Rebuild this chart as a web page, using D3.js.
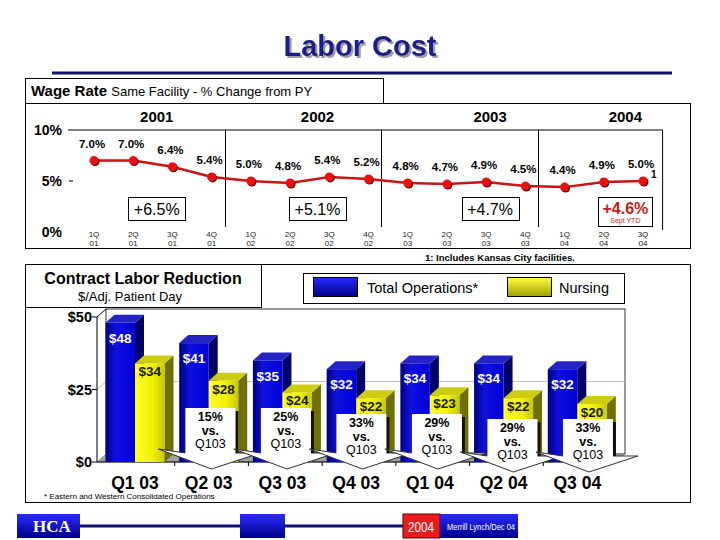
<!DOCTYPE html>
<html>
<head>
<meta charset="utf-8">
<script src="https://cdn.jsdelivr.net/npm/d3@7"></script>
<style>
  body { margin: 0; background: #fff; }
  svg { display: block; font-family: Arial, "Liberation Sans", sans-serif; }
</style>
</head>
<body>
<div id="chart"></div>
<script>
// wage rate, % change from prior year
const quarters = ["1Q01","2Q01","3Q01","4Q01","1Q02","2Q02","3Q02","4Q02",
                  "1Q03","2Q03","3Q03","4Q03","1Q04","2Q04","3Q04"];
const wageRate = [7.0, 7.0, 6.4, 5.4, 5.0, 4.8, 5.4, 5.2, 4.8, 4.7, 4.9, 4.5, 4.4, 4.9, 5.0];
const years = ["2001", "2002", "2003", "2004"];
const yearAvg = ["+6.5%", "+5.1%", "+4.7%", "+4.6%"];
const wageTicks = [0, 5, 10];

// contract labor, $ per adj. patient day
const periods = ["Q1 03", "Q2 03", "Q3 03", "Q4 03", "Q1 04", "Q2 04", "Q3 04"];
const totalOps = [48, 41, 35, 32, 34, 34, 32];
const nursing = [34, 28, 24, 22, 23, 22, 20];
const reduction = [null, "15%", "25%", "33%", "29%", "29%", "33%"];
const dollarTicks = [0, 25, 50];

const W = 720, H = 540;
const svg = d3.select("#chart").append("svg").attr("width", W).attr("height", H);
const defs = svg.append("defs");

function grad(id, stops, x2, y2) {
    const g = defs.append("linearGradient").attr("id", id)
        .attr("x1", 0).attr("y1", 0).attr("x2", x2).attr("y2", y2);
    stops.forEach(s => g.append("stop").attr("offset", s[0]).attr("stop-color", s[1]));
}
grad("blueFront", [[0, "#00007a"], [0.35, "#1010e0"], [1, "#0000d8"]], 1, 0);
grad("yellowFront", [[0, "#ffff30"], [0.6, "#f0f000"], [1, "#c8c800"]], 1, 0);
grad("blueBox", [[0, "#2a2aff"], [1, "#00008a"]], 0, 1);
grad("yellowBox", [[0, "#ffff40"], [1, "#a0a000"]], 0, 1);

const shadow = defs.append("filter").attr("id", "titleShadow")
    .attr("x", "-10%").attr("y", "-20%").attr("width", "130%").attr("height", "150%");
shadow.append("feDropShadow").attr("dx", 2).attr("dy", 2).attr("stdDeviation", 0.6)
    .attr("flood-color", "#9090a0").attr("flood-opacity", 0.9);

// title
svg.append("text").attr("x", 360).attr("y", 56).attr("text-anchor", "middle")
    .attr("font-size", 29).attr("font-weight", "bold").attr("fill", "#1c1c8a")
    .attr("filter", "url(#titleShadow)")
    .text("Labor Cost");
svg.append("line").attr("x1", 52).attr("x2", 672).attr("y1", 73).attr("y2", 73)
    .attr("stroke", "#12126e").attr("stroke-width", 3);

// ---------- Wage rate panel ----------
svg.append("rect").attr("x", 25.5).attr("y", 103.5).attr("width", 665).attr("height", 145)
    .attr("fill", "none").attr("stroke", "#000");
svg.append("rect").attr("x", 25.5).attr("y", 78.5).attr("width", 358).attr("height", 25)
    .attr("fill", "#fff").attr("stroke", "#000");
const wt = svg.append("text").attr("x", 31).attr("y", 96);
wt.append("tspan").attr("font-size", 15).attr("font-weight", "bold").text("Wage Rate ");
wt.append("tspan").attr("font-size", 13).text("Same Facility - % Change from PY");

const xq = d3.scalePoint().domain(quarters).range([94, 643]);
const yw = d3.scaleLinear().domain([0, 10]).range([232, 130]);
const step = xq.step();

const topG = svg.append("g");
topG.append("line").attr("x1", 68).attr("x2", xq("3Q04") + step * 0.5)
    .attr("y1", yw(10)).attr("y2", yw(10)).attr("stroke", "#000");
["4Q01", "4Q02", "4Q03"].forEach(q => {
    const x = Math.round(xq(q) + step * 0.33) + 0.5;
    topG.append("line").attr("x1", x).attr("x2", x).attr("y1", yw(10)).attr("y2", 227)
        .attr("stroke", "#000");
});
topG.append("line").attr("x1", xq("3Q04") + step * 0.5).attr("x2", xq("3Q04") + step * 0.5)
    .attr("y1", yw(10)).attr("y2", 230).attr("stroke", "#000");

wageTicks.forEach(t => {
    topG.append("text").attr("x", 62).attr("y", yw(t) + 5).attr("text-anchor", "end")
        .attr("font-size", 14).attr("font-weight", "bold").text(t + "%");
});
topG.append("line").attr("x1", 69).attr("x2", 73).attr("y1", yw(5)).attr("y2", yw(5))
    .attr("stroke", "#000");

// year labels and yearly averages, anchored between quarters
const yearAnchor = [["2Q01", 0.6], ["2Q02", 0.7], ["3Q03", 0.1], ["2Q04", 0.55]];
years.forEach((yr, i) => {
    const cx = xq(yearAnchor[i][0]) + step * yearAnchor[i][1];
    topG.append("text").attr("x", cx).attr("y", 122).attr("text-anchor", "middle")
        .attr("font-size", 15).attr("font-weight", "bold").text(yr);
    const last = i === years.length - 1;
    const bw = last ? 54 : 57, bh = last ? 29 : 23;
    topG.append("rect").attr("x", Math.round(cx - bw / 2) + 0.5).attr("y", 197.5)
        .attr("width", bw).attr("height", bh).attr("fill", "#fff").attr("stroke", "#000");
    topG.append("text").attr("x", cx).attr("y", last ? 214 : 215).attr("text-anchor", "middle")
        .attr("font-size", 16).attr("font-weight", last ? "bold" : "normal")
        .attr("fill", last ? "#d01818" : "#000").text(yearAvg[i]);
    if (last) {
        topG.append("text").attr("x", cx).attr("y", 222.5).attr("text-anchor", "middle")
            .attr("font-size", 7).attr("fill", "#d01818").text("Sept YTD");
    }
});

// quarter axis labels
quarters.forEach(q => {
    topG.append("text").attr("x", xq(q)).attr("y", 237).attr("text-anchor", "middle")
        .attr("font-size", 8).attr("fill", "#222").text(q.slice(0, 2));
    topG.append("text").attr("x", xq(q)).attr("y", 246).attr("text-anchor", "middle")
        .attr("font-size", 8).attr("fill", "#222").text(q.slice(2));
});

const pts = quarters.map((q, i) => ({ q, v: wageRate[i] }));
topG.append("path").datum(pts)
    .attr("d", d3.line().x(d => xq(d.q)).y(d => yw(d.v)))
    .attr("fill", "none").attr("stroke", "#c81414").attr("stroke-width", 2.5);
topG.selectAll(".shadow").data(pts).join("circle")
    .attr("cx", d => xq(d.q) + 1).attr("cy", d => yw(d.v) + 1).attr("r", 4.5)
    .attr("fill", "#600000");
topG.selectAll(".dot").data(pts).join("circle")
    .attr("cx", d => xq(d.q)).attr("cy", d => yw(d.v)).attr("r", 4.5)
    .attr("fill", "#e81010");
topG.selectAll(".lbl").data(pts).join("text")
    .attr("x", d => xq(d.q) - 2).attr("y", d => yw(d.v) - 13)
    .attr("text-anchor", "middle").attr("font-size", 11.5).attr("font-weight", "bold")
    .text(d => d.v.toFixed(1) + "%");
topG.append("text").attr("x", xq("3Q04") + 8).attr("y", 178).attr("font-size", 10)
    .attr("font-weight", "bold").text("1");

svg.append("text").attr("x", 500).attr("y", 261).attr("text-anchor", "middle")
    .attr("font-size", 9.5).attr("font-weight", "bold").text("1: Includes Kansas City facilities.");

// ---------- Contract labor panel ----------
svg.append("rect").attr("x", 25.5).attr("y", 264.5).attr("width", 665).attr("height", 238)
    .attr("fill", "none").attr("stroke", "#000");
svg.append("rect").attr("x", 25.5).attr("y", 264.5).attr("width", 236).attr("height", 43)
    .attr("fill", "#fff").attr("stroke", "#000");
svg.append("text").attr("x", 143).attr("y", 284).attr("text-anchor", "middle")
    .attr("font-size", 16).attr("font-weight", "bold").text("Contract Labor Reduction");
svg.append("text").attr("x", 130).attr("y", 301).attr("text-anchor", "middle")
    .attr("font-size", 13).text("$/Adj. Patient Day");

// legend
svg.append("rect").attr("x", 303.5).attr("y", 273.5).attr("width", 321).attr("height", 30)
    .attr("fill", "#fff").attr("stroke", "#000");
svg.append("rect").attr("x", 313.5).attr("y", 277.5).attr("width", 44).attr("height", 19)
    .attr("fill", "url(#blueBox)").attr("stroke", "#000");
svg.append("text").attr("x", 367).attr("y", 293).attr("font-size", 14.5).text("Total Operations*");
svg.append("rect").attr("x", 507.5).attr("y", 277.5).attr("width", 44).attr("height", 19)
    .attr("fill", "url(#yellowBox)").attr("stroke", "#000");
svg.append("text").attr("x", 559).attr("y", 293).attr("font-size", 14.5).text("Nursing");

const xb = d3.scaleBand().domain(periods).range([98, 614]);
const yb = d3.scaleLinear().domain([0, 50]).range([462, 317]);
const xs = d3.scaleBand().domain(["total", "nursing"]).range([7.5, 66.5]);
const dx = 9, dy = -8;
const x0 = 97, xEnd = 625;

const bot = svg.append("g");
// back wall, grid and floor
bot.append("rect").attr("x", x0 + dx).attr("y", yb(50) + dy).attr("width", xEnd - x0 - dx)
    .attr("height", yb(0) - yb(50)).attr("fill", "#fff").attr("stroke", "#000").attr("stroke-width", 0.8);
dollarTicks.filter(t => t > 0 && t < 50).forEach(t => {
    bot.append("line").attr("x1", x0 + dx).attr("x2", xEnd).attr("y1", yb(t) + dy).attr("y2", yb(t) + dy)
        .attr("stroke", "#c0c0c8");
    bot.append("line").attr("x1", x0).attr("x2", x0 + dx).attr("y1", yb(t)).attr("y2", yb(t) + dy)
        .attr("stroke", "#c0c0c8");
});
bot.append("path")
    .attr("d", `M${x0},${yb(0)}L${x0 + dx},${yb(0) + dy}L${xEnd},${yb(0) + dy}L${xEnd - dx},${yb(0)}Z`)
    .attr("fill", "#a0a0a0").attr("stroke", "#606060").attr("stroke-width", 0.5);
bot.append("line").attr("x1", x0).attr("x2", x0 + dx).attr("y1", yb(50)).attr("y2", yb(50) + dy)
    .attr("stroke", "#000");
bot.append("line").attr("x1", x0).attr("x2", x0).attr("y1", yb(50)).attr("y2", yb(0))
    .attr("stroke", "#000");
bot.append("line").attr("x1", x0).attr("x2", xEnd - dx).attr("y1", yb(0)).attr("y2", yb(0))
    .attr("stroke", "#000");
dollarTicks.forEach(t => {
    bot.append("line").attr("x1", x0 - 5).attr("x2", x0).attr("y1", yb(t)).attr("y2", yb(t))
        .attr("stroke", "#000");
    bot.append("text").attr("x", x0 - 5).attr("y", yb(t) + 5).attr("text-anchor", "end")
        .attr("font-size", 14.5).attr("font-weight", "bold").text("$" + t);
});
periods.forEach(p => {
    const x = xb(p) + xb.bandwidth() + 3;
    if (p !== periods[periods.length - 1])
        bot.append("line").attr("x1", x).attr("x2", x).attr("y1", yb(0)).attr("y2", yb(0) + 4)
            .attr("stroke", "#000");
});

function bar3d(g, x, v, w, front, side, top) {
    const yt = yb(v), y0 = yb(0);
    g.append("path").attr("d", `M${x + w},${yt}L${x + w + dx},${yt + dy}L${x + w + dx},${y0 + dy}L${x + w},${y0}Z`)
        .attr("fill", side);
    g.append("path").attr("d", `M${x},${yt}L${x + dx},${yt + dy}L${x + w + dx},${yt + dy}L${x + w},${yt}Z`)
        .attr("fill", top);
    g.append("rect").attr("x", x).attr("y", yt).attr("width", w).attr("height", y0 - yt)
        .attr("fill", front);
}

periods.forEach((p, i) => {
    const g = bot.append("g");
    const xt = xb(p) + xs("total"), xn = xb(p) + xs("nursing"), w = xs.bandwidth();
    bar3d(g, xt, totalOps[i], w, "url(#blueFront)", "#00006a", "#2424c4");
    bar3d(g, xn, nursing[i], w, "url(#yellowFront)", "#707000", "#cccc10");
    g.append("text").attr("x", xt + w / 2).attr("y", yb(totalOps[i]) + 20).attr("text-anchor", "middle")
        .attr("font-size", 13.5).attr("font-weight", "bold").attr("fill", "#fff").text("$" + totalOps[i]);
    g.append("text").attr("x", xn + w / 2).attr("y", yb(nursing[i]) + 13).attr("text-anchor", "middle")
        .attr("font-size", 13.5).attr("font-weight", "bold").attr("fill", "#1a1a00").text("$" + nursing[i]);
    bot.append("text").attr("x", xn).attr("y", 489).attr("text-anchor", "middle")
        .attr("font-size", 17.5).attr("font-weight", "bold").text(p);
});

// down-arrow callouts
periods.forEach((p, i) => {
    if (!reduction[i]) return;
    const cx = xb(p) + xb.bandwidth() / 2 + i * 1.8;
    const top = i <= 2 ? 408 : (i <= 4 ? 414 : 419), b = 453 + (i > 4 ? 3 : 0);
    const g = bot.append("g");
    g.append("path")
        .attr("d", `M${cx - 25},${b}L${cx - 52},${b - 4}L${cx + 1},${b + 16}L${cx + 50},${b}L${cx + 25},${b}Z`)
        .attr("fill", "#fff").attr("stroke", "#303030").attr("stroke-width", 1);
    g.append("rect").attr("x", cx + 25).attr("y", top + 3).attr("width", 3).attr("height", b - top - 3)
        .attr("fill", "#101010");
    g.append("rect").attr("x", cx - 25).attr("y", top).attr("width", 50).attr("height", b - top + 1)
        .attr("fill", "#fff");
    const ty = top + 13;
    g.append("text").attr("x", cx).attr("y", ty).attr("text-anchor", "middle")
        .attr("font-size", 12.5).attr("font-weight", "bold").text(reduction[i]);
    g.append("text").attr("x", cx).attr("y", ty + 13.5).attr("text-anchor", "middle")
        .attr("font-size", 12.5).attr("font-weight", "bold").text("vs.");
    g.append("text").attr("x", cx).attr("y", ty + 27).attr("text-anchor", "middle")
        .attr("font-size", 12.5).text("Q103");
});

svg.append("text").attr("x", 44).attr("y", 499).attr("font-size", 8)
    .text("* Eastern and Western Consolidated Operations");

// footer bar
svg.append("line").attr("x1", 80).attr("x2", 403).attr("y1", 526).attr("y2", 526)
    .attr("stroke", "#12126e").attr("stroke-width", 3);
svg.append("rect").attr("x", 17).attr("y", 514).attr("width", 63).attr("height", 24).attr("fill", "url(#blueBox)");
svg.append("rect").attr("x", 240).attr("y", 514).attr("width", 45).attr("height", 24).attr("fill", "url(#blueBox)");
svg.append("rect").attr("x", 403).attr("y", 514).attr("width", 37).attr("height", 24).attr("fill", "#e81c1c")
    .attr("stroke", "#600000");
svg.append("rect").attr("x", 440).attr("y", 514).attr("width", 78).attr("height", 24).attr("fill", "url(#blueBox)");
svg.append("text").attr("x", 52).attr("y", 532).attr("text-anchor", "middle")
    .attr("font-family", "'Liberation Serif', 'Times New Roman', serif")
    .attr("font-size", 17).attr("font-weight", "bold").attr("fill", "#fff").text("HCA");
svg.append("text").attr("x", 408).attr("y", 532)
    .attr("font-size", 15).attr("textLength", 26).attr("lengthAdjust", "spacingAndGlyphs")
    .attr("fill", "#fff").text("2004");
svg.append("text").attr("x", 447).attr("y", 530)
    .attr("font-size", 9).attr("textLength", 68).attr("lengthAdjust", "spacingAndGlyphs")
    .attr("fill", "#fff").text("Merrill Lynch/Dec 04");
</script>
</body>
</html>
